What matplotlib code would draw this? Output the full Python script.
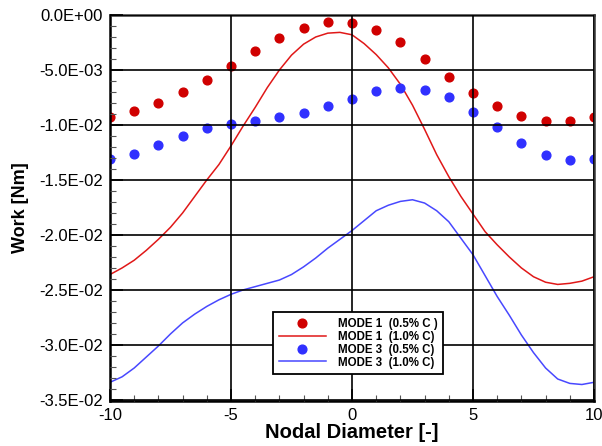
import numpy as np
import matplotlib.pyplot as plt
from matplotlib.ticker import MultipleLocator, FuncFormatter

plt.rcParams["font.family"] = ["Liberation Sans", "DejaVu Sans"]
plt.rcParams["axes.unicode_minus"] = False

# nodal diameters for the 0.5% C computations
nd_points = [-10, -9, -8, -7, -6, -5, -4, -3, -2, -1, 0, 1, 2, 3, 4, 5, 6, 7, 8, 9, 10]

mode1_05 = [-0.0093, -0.0087, -0.0080, -0.0070, -0.0059, -0.0046, -0.0033, -0.0021,
            -0.0012, -0.00067, -0.00076, -0.0014, -0.0025, -0.0040, -0.0056, -0.0071,
            -0.0083, -0.0092, -0.0096, -0.0096, -0.0093]
mode3_05 = [-0.0131, -0.0126, -0.0118, -0.0110, -0.0103, -0.0099, -0.0096, -0.0093,
            -0.0089, -0.0083, -0.0076, -0.0069, -0.0066, -0.0068, -0.0075, -0.0088,
            -0.0102, -0.0116, -0.0127, -0.0132, -0.0131]

# 1.0% C curves, read every half nodal diameter
nd_curve = [-10, -9.5, -9, -8.5, -8, -7.5, -7, -6.5, -6, -5.5, -5, -4.5, -4, -3.5, -3,
            -2.5, -2, -1.5, -1, -0.5, 0, 0.5, 1, 1.5, 2, 2.5, 3, 3.5, 4, 4.5, 5, 5.5,
            6, 6.5, 7, 7.5, 8, 8.5, 9, 9.5, 10]

mode1_10 = [-0.0236, -0.0230, -0.0223, -0.0214, -0.0204, -0.0193, -0.0180, -0.0165,
            -0.0150, -0.0136, -0.0119, -0.0101, -0.0084, -0.0066, -0.0050, -0.00365,
            -0.00265, -0.0020, -0.00165, -0.00158, -0.0018, -0.0026, -0.0036, -0.0048,
            -0.0063, -0.0082, -0.0104, -0.0127, -0.0147, -0.0165, -0.0181, -0.0197,
            -0.0209, -0.0220, -0.0230, -0.0238, -0.0243, -0.0245, -0.0244, -0.0242,
            -0.0238]
mode3_10 = [-0.0334, -0.0329, -0.0321, -0.0311, -0.0301, -0.0290, -0.0280, -0.0272,
            -0.0265, -0.0259, -0.0254, -0.0250, -0.0247, -0.0244, -0.0241, -0.0236,
            -0.0229, -0.0221, -0.0212, -0.0204, -0.0196, -0.0187, -0.0178, -0.0173,
            -0.01695, -0.0168, -0.0171, -0.0178, -0.0188, -0.0203, -0.0218, -0.0237,
            -0.0256, -0.0273, -0.0291, -0.0307, -0.0321, -0.0331, -0.0335, -0.0336,
            -0.0334]

fig = plt.figure(figsize=(6.02, 4.46), dpi=100)
ax = fig.add_axes([110 / 602, 1 - 401 / 446, 484 / 602, 386 / 446])

ax.plot(nd_points, mode1_05, "o", color="#d00000", markersize=6.3, label="MODE 1  (0.5% C )")
ax.plot(nd_curve, mode1_10, "-", color="#e01818", linewidth=1.1, label="MODE 1  (1.0% C)")
ax.plot(nd_points, mode3_05, "o", color="#3030ff", markersize=6.3, label="MODE 3  (0.5% C)")
ax.plot(nd_curve, mode3_10, "-", color="#4848ff", linewidth=1.1, label="MODE 3  (1.0% C)")

ax.set_xlim(-10, 10)
ax.set_ylim(-0.0351, 0)
ax.xaxis.set_major_locator(MultipleLocator(5))
ax.xaxis.set_minor_locator(MultipleLocator(1))
ax.yaxis.set_major_locator(MultipleLocator(0.005))
ax.yaxis.set_minor_locator(MultipleLocator(0.001))


def sci_fmt(v, pos):
    s = f"{v:.1E}"
    if s.startswith("-0.0"):
        s = s[1:]
    return s


ax.yaxis.set_major_formatter(FuncFormatter(sci_fmt))
ax.grid(True, which="major", color="black", linewidth=1.2)
ax.set_axisbelow(False)

ax.tick_params(which="major", direction="in", length=9, width=1.2, labelsize=12, pad=5)
ax.tick_params(which="minor", direction="in", length=4, width=0.8, color="#555555")
for side in ["left", "bottom", "top", "right"]:
    ax.spines[side].set_linewidth(1.8)
ax.spines["top"].set_color("#333333")
ax.spines["right"].set_color("#333333")

ax.set_xlabel("Nodal Diameter [-]", fontsize=14.5, fontweight="bold", labelpad=0)
ax.set_ylabel("Work [Nm]", fontsize=13, fontweight="bold", labelpad=7)

leg = ax.legend(loc="upper left", bbox_to_anchor=((273 - 110) / 484, (401 - 312) / 386),
                prop={"weight": "bold", "size": 8.3}, frameon=True,
                fancybox=False, edgecolor="black", framealpha=1, handlelength=4.1,
                borderpad=0.5, labelspacing=0.08, handletextpad=1.0, borderaxespad=0)
leg.get_frame().set_linewidth(1.3)

fig.savefig("out.png", dpi=100)
